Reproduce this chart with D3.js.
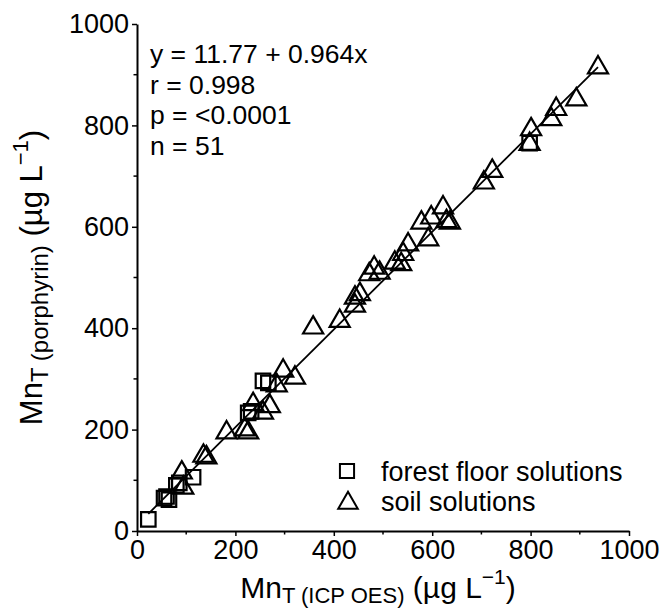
<!DOCTYPE html>
<html>
<head>
<meta charset="utf-8">
<script src="https://cdn.jsdelivr.net/npm/d3@7"></script>
<style>
body { margin: 0; background: #fff; }
svg { font-family: "Liberation Sans", Arial, sans-serif; }
</style>
</head>
<body>
<div id="chart"></div>
<script>
// forest floor solutions (squares), [ICP OES, porphyrin]
var forestFloor = [
	[23, 23], [55, 65], [60, 68], [65, 62], [80, 90], [86, 95], [114, 106],
	[226, 233], [232, 236], [256, 296], [267, 292], [798, 765]
];
// soil solutions (triangles)
var soil = [
	[91, 115], [94, 85], [135, 148], [141, 145], [182, 194], [219, 200], [226, 194],
	[236, 250], [256, 233], [270, 246], [284, 287], [297, 316], [321, 302], [358, 401],
	[412, 414], [443, 444], [443, 460], [453, 467], [472, 506], [482, 519], [493, 509],
	[524, 529], [537, 526], [541, 546], [551, 565], [578, 608], [592, 575], [598, 618],
	[622, 638], [629, 611], [636, 608], [705, 687], [722, 710], [798, 763], [801, 792],
	[842, 812], [852, 832], [893, 851], [937, 914]
];
var majorTicks = [0, 200, 400, 600, 800, 1000];
var minorTicks = [100, 300, 500, 700, 900];
var fit = {a: 11.77, b: 0.964};
var statLines = ["y = 11.77 + 0.964x", "r = 0.998", "p = <0.0001", "n = 51"];
var legendLabels = ["forest floor solutions", "soil solutions"];

var W = 662, H = 612;
var m = {left: 137, top: 24, right: 33, bottom: 81};

var svg = d3.select("#chart").append("svg")
	.attr("width", W)
	.attr("height", H);

var x = d3.scaleLinear().domain([0, 1000]).range([m.left, W - m.right]);
var y = d3.scaleLinear().domain([0, 1000]).range([H - m.bottom, m.top]);

// axes
var xAxis = svg.append("g")
	.attr("transform", "translate(0," + y(0) + ")")
	.call(d3.axisBottom(x).tickValues(majorTicks).tickFormat(d3.format("d"))
		.tickSize(5).tickSizeOuter(0).tickPadding(4));
xAxis.append("g").selectAll("line").data(minorTicks).enter().append("line")
	.attr("x1", function(d){ return x(d); })
	.attr("x2", function(d){ return x(d); })
	.attr("y1", 0).attr("y2", 3.5)
	.attr("stroke", "black").attr("stroke-width", 1.5);

var yAxis = svg.append("g")
	.attr("transform", "translate(" + x(0) + ",0)")
	.call(d3.axisLeft(y).tickValues(majorTicks).tickFormat(d3.format("d"))
		.tickSize(5).tickSizeOuter(0).tickPadding(3));
yAxis.append("g").selectAll("line").data(minorTicks).enter().append("line")
	.attr("y1", function(d){ return y(d); })
	.attr("y2", function(d){ return y(d); })
	.attr("x1", 0).attr("x2", -3.5)
	.attr("stroke", "black").attr("stroke-width", 1.5);

svg.selectAll(".domain").attr("stroke", "black").attr("stroke-width", 2);
svg.selectAll(".tick line").attr("stroke", "black").attr("stroke-width", 1.5);
svg.selectAll(".tick text").attr("font-size", 27).attr("fill", "black")
	.attr("font-family", "'Liberation Sans', Arial, sans-serif");

// regression line over the data range
var allX = forestFloor.concat(soil).map(function(d){ return d[0]; });
var x0 = d3.min(allX), x1 = d3.max(allX);
svg.append("line")
	.attr("x1", x(x0)).attr("y1", y(fit.a + fit.b * x0))
	.attr("x2", x(x1)).attr("y2", y(fit.a + fit.b * x1))
	.attr("stroke", "black")
	.attr("stroke-width", 1.8);

// markers
var sq = d3.symbol().type(d3.symbolSquare).size(210);
var tri = d3.symbol().type(d3.symbolTriangle).size(175);

svg.append("g").selectAll("path").data(soil).enter().append("path")
	.attr("d", tri)
	.attr("transform", function(d){ return "translate(" + x(d[0]) + "," + y(d[1]) + ")"; })
	.attr("fill", "none").attr("stroke", "black").attr("stroke-width", 2.2);

svg.append("g").selectAll("path").data(forestFloor).enter().append("path")
	.attr("d", sq)
	.attr("transform", function(d){ return "translate(" + x(d[0]) + "," + y(d[1]) + ")"; })
	.attr("fill", "none").attr("stroke", "black").attr("stroke-width", 2.2);

// stats text
svg.append("g").selectAll("text").data(statLines).enter().append("text")
	.attr("x", 150)
	.attr("y", function(d, i){ return 63 + i * 30.5; })
	.attr("font-size", 26.5)
	.text(function(d){ return d; });

// legend
var lg = svg.append("g").attr("transform", "translate(347,471)");
lg.append("path").attr("d", d3.symbol().type(d3.symbolSquare).size(200))
	.attr("fill", "none").attr("stroke", "black").attr("stroke-width", 2);
lg.append("path").attr("d", d3.symbol().type(d3.symbolTriangle).size(165))
	.attr("transform", "translate(1,32)")
	.attr("fill", "none").attr("stroke", "black").attr("stroke-width", 2);
lg.selectAll("text").data(legendLabels).enter().append("text")
	.attr("x", 34)
	.attr("y", function(d, i){ return 10 + i * 30; })
	.attr("font-size", 27)
	.text(function(d){ return d; });

// axis titles
var xt = svg.append("text")
	.attr("x", (x(0) + x(1000)) / 2 - 5)
	.attr("y", 598)
	.attr("text-anchor", "middle")
	.attr("font-size", 30);
xt.append("tspan").text("Mn");
xt.append("tspan").attr("font-size", 22).attr("dy", 5).text("T (ICP OES)");
xt.append("tspan").attr("dy", -5).text(" (\u00b5g L");
xt.append("tspan").attr("font-size", 21).attr("dy", -14).text("\u22121");
xt.append("tspan").attr("dy", 14).text(")");

var yt = svg.append("text")
	.attr("transform", "translate(42," + ((y(0) + y(1000)) / 2) + ") rotate(-90)")
	.attr("text-anchor", "middle")
	.attr("font-size", 31);
yt.append("tspan").text("Mn");
yt.append("tspan").attr("font-size", 24).attr("dy", 6).text("T (porphyrin)");
yt.append("tspan").attr("dy", -6).text(" (\u00b5g L");
yt.append("tspan").attr("font-size", 22).attr("dy", -14).text("\u22121");
yt.append("tspan").attr("dy", 14).text(")");
</script>
</body>
</html>
